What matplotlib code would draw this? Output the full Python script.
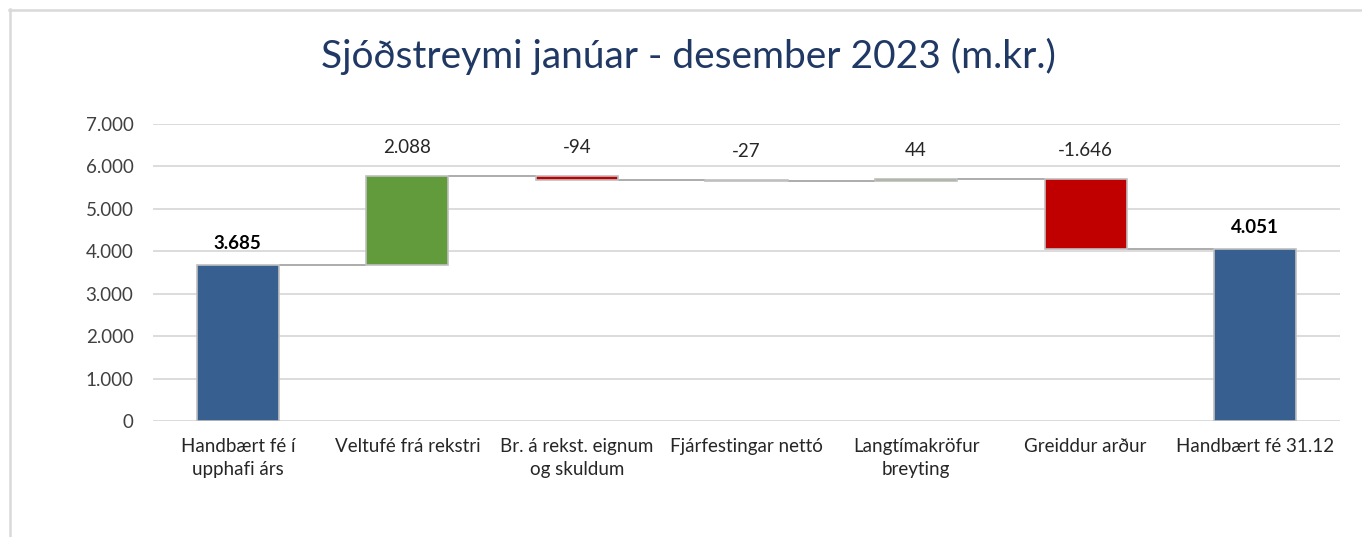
import matplotlib
matplotlib.use("Agg")
import matplotlib.pyplot as plt
from matplotlib.lines import Line2D
import numpy as np

categories = ["Handbært fé í\nupphafi árs", "Veltufé frá rekstri", "Br. á rekst. eignum\nog skuldum",
              "Fjárfestingar nettó", "Langtímakröfur\nbreyting", "Greiddur arður", "Handbært fé 31.12"]
values = [3685, 2088, -94, -27, 44, -1646, 4051]
is_total = [True, False, False, False, False, False, True]
yticks = [0, 1000, 2000, 3000, 4000, 5000, 6000, 7000]

BLUE = "#376091"
GREEN = "#629B3C"
RED = "#C00000"
FONT = ["Lato", "DejaVu Sans"]

plt.rcParams['font.family'] = FONT

fig = plt.figure(figsize=(13.62, 5.37), dpi=100)
ax = fig.add_axes([153/1362, (537-421)/537, (1340-153)/1362, (421-124)/537])

bottoms, heights, tops, colors, levels = [], [], [], [], []
cum = 0
for v, tot in zip(values, is_total):
    if tot:
        b, h, c = 0, v, BLUE
        cum = v
    else:
        if v >= 0:
            b, h, c = cum, v, GREEN
        else:
            b, h, c = cum + v, -v, RED
        cum += v
    bottoms.append(b); heights.append(h); tops.append(b + h); colors.append(c); levels.append(cum)

x = np.arange(len(categories))
w = 0.485
ax.bar(x, heights, bottom=bottoms, width=w, color=colors, edgecolor="#BFBFBF", linewidth=1.2, zorder=3)

for i in range(len(x) - 1):
    ax.plot([x[i] + w/2, x[i+1] - w/2], [levels[i], levels[i]], color="#A6A6A6", lw=1.3, zorder=2,
            solid_capstyle="butt")

FS = 13.5
for i, (v, tot) in enumerate(zip(values, is_total)):
    txt = f"{v:,}".replace(",", ".")
    if tot:
        ax.annotate(txt, (x[i], tops[i]), xytext=(0, 15.5), textcoords="offset points",
                    ha="center", va="center", fontsize=FS, fontweight="bold", color="#000000")
    else:
        ax.annotate(txt, (x[i], tops[i]), xytext=(0, 20.5), textcoords="offset points",
                    ha="center", va="center", fontsize=FS, color="#262626")

ax.set_xlim(-0.5, len(x) - 0.5)
ax.set_ylim(0, 7000)
ax.set_yticks(yticks)
ax.set_yticklabels([f"{t:,}".replace(",", ".") for t in yticks], fontsize=FS, color="#404040")
ax.set_xticks(x)
ax.set_xticklabels(categories, fontsize=FS, color="#262626", linespacing=1.45)
ax.tick_params(axis="y", length=0, pad=14)
ax.tick_params(axis="x", length=0, pad=12)
ax.grid(axis="y", color="#D9D9D9", lw=1.3, zorder=0)
ax.set_axisbelow(True)
for s in ax.spines.values():
    s.set_visible(False)

fig.text(688/1362, 1 - 56/537, "Sjóðstreymi janúar - desember 2023 (m.kr.)", ha="center", va="center",
         fontsize=28, color="#1F3864")

fig.add_artist(Line2D([9/1362, 1], [1 - 9.5/537, 1 - 9.5/537], color="#D9D9D9", lw=1.8, transform=fig.transFigure))
fig.add_artist(Line2D([9.5/1362, 9.5/1362], [0, 1 - 9/537], color="#D9D9D9", lw=1.8, transform=fig.transFigure))

fig.savefig("out.png", dpi=100)
